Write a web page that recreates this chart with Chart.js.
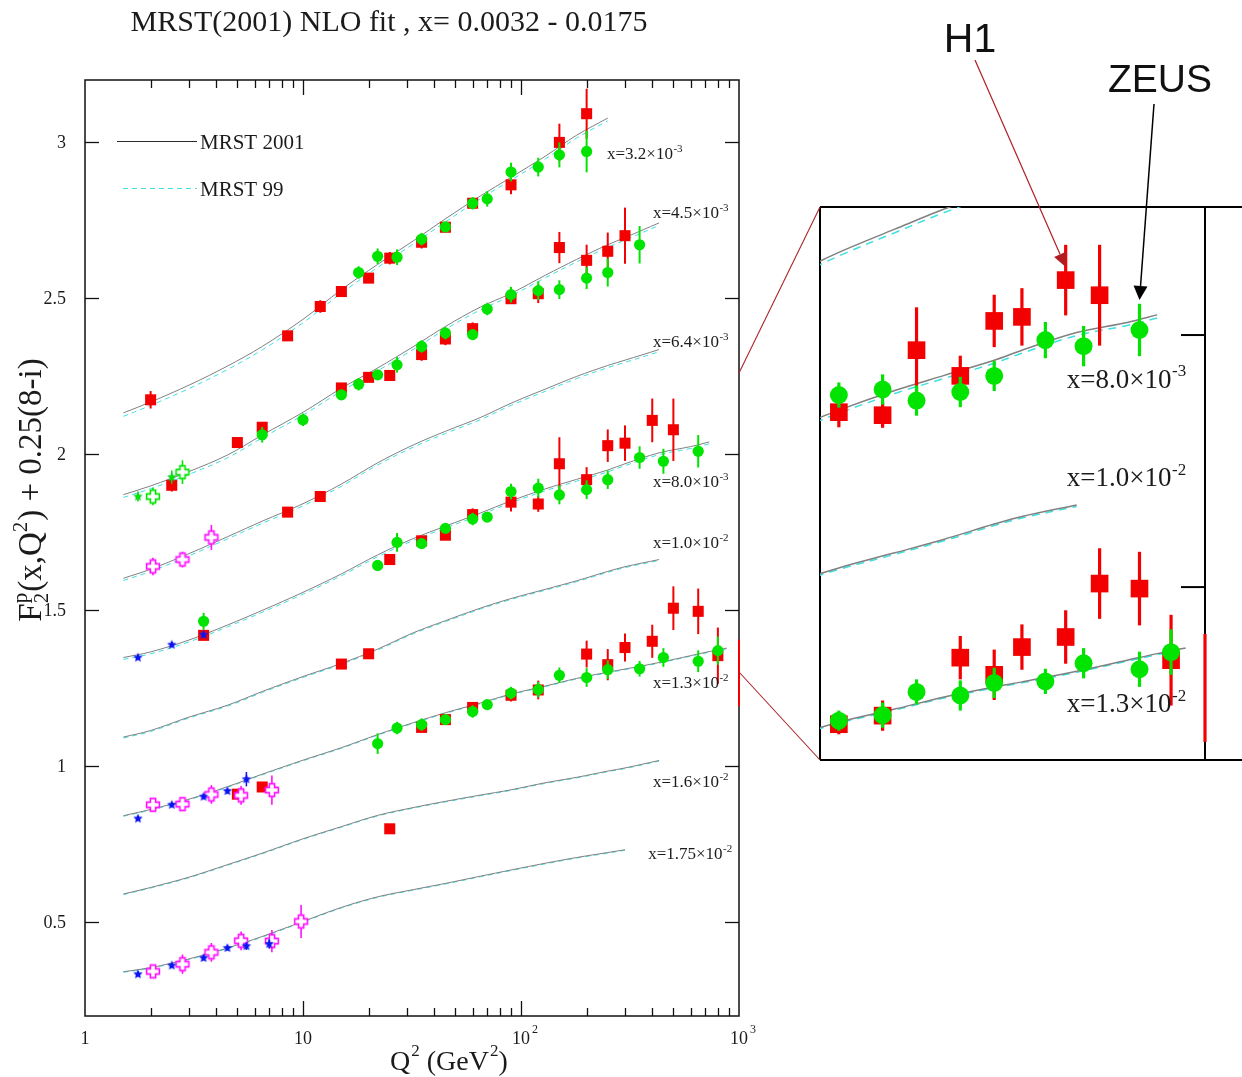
<!DOCTYPE html>
<html>
<head>
<meta charset="utf-8">
<script src="https://cdn.jsdelivr.net/npm/chart.js@4.4.1/dist/chart.umd.min.js"></script>
<style>
  html, body { margin: 0; padding: 0; background: #fff; }
  #wrap { position: relative; width: 1242px; height: 1077px; overflow: hidden; background: #fff; }
  #wrap canvas { position: absolute; left: 0; top: 0; }
</style>
</head>
<body>
<div id="wrap">
  <canvas id="main" width="1242" height="1077"></canvas>
  <canvas id="zoom" width="1242" height="1077"></canvas>
</div>
<script>
// ---------------------------------------------------------------------------
// F2 proton structure function, offset by 0.25(8-i) per x bin
// ---------------------------------------------------------------------------

// x bins (top to bottom)
const binMantissa = ['3.2', '4.5', '6.4', '8.0', '1.0', '1.3', '1.6', '1.75'];
const binExponent = ['-3', '-3', '-3', '-3', '-2', '-2', '-2', '-2'];

// Q2 grid of the fit curves
const curveQ2 = [1.5, 2, 3, 4.5, 6.5, 10, 15, 22, 32, 45, 65, 90, 130, 180, 250, 300, 430, 600, 730, 880];

// MRST 2001 NLO curves, one row per x bin
const mrst2001 = [
  [2.133, 2.168, 2.222, 2.283, 2.346, 2.433, 2.528, 2.609, 2.684, 2.755, 2.828, 2.888, 2.957, 3.023, 3.078],
  [1.871, 1.899, 1.945, 1.998, 2.062, 2.135, 2.212, 2.277, 2.345, 2.410, 2.472, 2.516, 2.575, 2.625, 2.672, 2.695, 2.742],
  [1.603, 1.632, 1.682, 1.736, 1.786, 1.842, 1.905, 1.973, 2.030, 2.074, 2.118, 2.164, 2.210, 2.250, 2.285, 2.302, 2.336],
  [1.349, 1.367, 1.405, 1.453, 1.500, 1.558, 1.617, 1.678, 1.730, 1.770, 1.812, 1.851, 1.890, 1.920, 1.950, 1.970, 2.005, 2.025, 2.040],
  [1.094, 1.115, 1.158, 1.196, 1.240, 1.288, 1.330, 1.376, 1.428, 1.467, 1.507, 1.538, 1.568, 1.595, 1.625, 1.640, 1.663],
  [0.842, 0.862, 0.895, 0.935, 0.975, 1.020, 1.060, 1.102, 1.140, 1.172, 1.203, 1.232, 1.258, 1.282, 1.302, 1.312, 1.333, 1.355, 1.368, 1.379],
  [0.591, 0.612, 0.645, 0.685, 0.722, 0.768, 0.807, 0.843, 0.868, 0.888, 0.908, 0.925, 0.948, 0.965, 0.985, 0.995, 1.019],
  [0.342, 0.355, 0.383, 0.418, 0.455, 0.503, 0.548, 0.582, 0.605, 0.625, 0.648, 0.668, 0.690, 0.708, 0.724, 0.733]
];

// MRST 99 curves
const mrst99 = [
  [2.122, 2.157, 2.211, 2.272, 2.335, 2.422, 2.517, 2.599, 2.674, 2.745, 2.819, 2.879, 2.948, 3.014, 3.069],
  [1.862, 1.890, 1.936, 1.989, 2.053, 2.126, 2.203, 2.268, 2.336, 2.401, 2.463, 2.508, 2.567, 2.617, 2.664, 2.687, 2.734],
  [1.596, 1.625, 1.675, 1.729, 1.779, 1.835, 1.898, 1.966, 2.023, 2.067, 2.111, 2.157, 2.203, 2.243, 2.278, 2.295, 2.329],
  [1.343, 1.361, 1.399, 1.447, 1.494, 1.552, 1.611, 1.672, 1.724, 1.764, 1.806, 1.845, 1.884, 1.914, 1.944, 1.964, 1.999, 2.019, 2.034],
  [1.091, 1.112, 1.155, 1.193, 1.237, 1.285, 1.327, 1.373, 1.425, 1.464, 1.504, 1.535, 1.565, 1.592, 1.622, 1.637, 1.660],
  [0.840, 0.860, 0.893, 0.933, 0.973, 1.018, 1.058, 1.100, 1.138, 1.170, 1.201, 1.230, 1.256, 1.280, 1.300, 1.310, 1.331, 1.353, 1.366, 1.377],
  [0.589, 0.610, 0.643, 0.683, 0.720, 0.766, 0.805, 0.841, 0.866, 0.886, 0.906, 0.923, 0.946, 0.963, 0.983, 0.993, 1.017],
  [0.340, 0.353, 0.381, 0.416, 0.453, 0.501, 0.546, 0.580, 0.603, 0.623, 0.646, 0.666, 0.688, 0.706, 0.722, 0.731]
];

// H1 (red squares): Q2, F2 + offset, error
const h1Q2 = [
  2.0, 8.5, 12, 15, 20, 25, 35, 45, 60, 90, 150, 200,
  2.5, 5.0, 6.5, 15, 20, 25, 35, 45, 60, 90, 120, 150, 200, 250, 300,
  8.5, 12,
  3.5, 25, 35, 45, 60, 90, 120, 150, 200, 250, 300, 400, 500,
  15, 20,
  5.0, 6.5, 35, 45, 60, 90, 120, 200, 250, 300, 400, 500, 650, 800, 1000,
  25
];
const h1F2 = [
  2.175, 2.380, 2.474, 2.522, 2.565, 2.629, 2.680, 2.728, 2.805, 2.864, 3.000, 3.092,
  1.901, 2.038, 2.087, 2.213, 2.247, 2.253, 2.320, 2.370, 2.403, 2.499, 2.515, 2.663, 2.622, 2.651, 2.701,
  1.815, 1.865,
  1.420, 1.663, 1.723, 1.741, 1.807, 1.847, 1.841, 1.970, 1.919, 2.028, 2.036, 2.109, 2.079,
  1.328, 1.361,
  0.911, 0.934, 1.125, 1.150, 1.189, 1.228, 1.245, 1.360, 1.326, 1.381, 1.401, 1.507, 1.497, 1.355, 1.300,
  0.800
];
const h1Err = [
  0.028, 0.015, 0.020, 0.015, 0.015, 0.020, 0.020, 0.015, 0.015, 0.030, 0.060, 0.080,
  0.020, 0.012, 0.015, 0.015, 0.015, 0.015, 0.020, 0.020, 0.020, 0.015, 0.030, 0.050, 0.050, 0.060, 0.090,
  0.012, 0.012,
  0.015, 0.015, 0.015, 0.015, 0.020, 0.030, 0.025, 0.085, 0.040, 0.052, 0.057, 0.070, 0.100,
  0.012, 0.012,
  0.012, 0.012, 0.015, 0.015, 0.015, 0.020, 0.030, 0.043, 0.050, 0.045, 0.053, 0.070, 0.073, 0.090, 0.107,
  0.012
];

// ZEUS (green circles)
const zeusQ2 = [
  18, 22, 27, 35, 45, 60, 70, 90, 120, 150, 200,
  6.5, 10, 15, 18, 22, 27, 35, 45, 60, 70, 90, 120, 150, 200, 250, 350,
  3.5, 22, 27, 35, 45, 60, 70, 90, 120, 150, 200, 250, 350, 450, 650,
  22, 27, 35, 45, 60, 70, 90, 120, 150, 200, 250, 350, 450, 650, 800
];
const zeusF2 = [
  2.583, 2.635, 2.632, 2.690, 2.729, 2.805, 2.819, 2.905, 2.921, 2.960, 2.971,
  2.063, 2.111, 2.191, 2.225, 2.255, 2.287, 2.346, 2.389, 2.384, 2.466, 2.512, 2.525, 2.528, 2.565, 2.583, 2.672,
  1.465, 1.644, 1.718, 1.714, 1.763, 1.793, 1.799, 1.881, 1.892, 1.870, 1.887, 1.919, 1.990, 1.978, 2.010,
  1.073, 1.123, 1.134, 1.150, 1.176, 1.198, 1.235, 1.246, 1.292, 1.285, 1.310, 1.313, 1.349, 1.337, 1.371
];
const zeusErr = [
  0.020, 0.025, 0.025, 0.020, 0.015, 0.020, 0.025, 0.030, 0.030, 0.040, 0.067,
  0.025, 0.020, 0.015, 0.020, 0.015, 0.025, 0.020, 0.020, 0.015, 0.020, 0.025, 0.030, 0.030, 0.035, 0.045, 0.060,
  0.027, 0.015, 0.030, 0.015, 0.015, 0.020, 0.015, 0.025, 0.030, 0.030, 0.030, 0.030, 0.036, 0.040, 0.052,
  0.033, 0.020, 0.020, 0.015, 0.020, 0.015, 0.020, 0.025, 0.025, 0.030, 0.030, 0.025, 0.030, 0.035, 0.045
];

// fixed-target data, blue stars
const starQ2 = [1.75, 2.5, 3.5, 1.75, 2.5, 3.5, 4.5, 5.5, 1.75, 2.5, 3.5, 4.5, 5.5, 7.0];
const starF2 = [1.349, 1.390, 1.422, 0.833, 0.877, 0.903, 0.921, 0.959, 0.334, 0.362, 0.386, 0.418, 0.424, 0.431];
const starErr = [0.008, 0.008, 0.010, 0.008, 0.008, 0.008, 0.008, 0.023, 0.008, 0.008, 0.008, 0.008, 0.012, 0.015];

// fixed-target data, magenta open crosses
const crossQ2 = [2.05, 2.8, 3.8, 2.05, 2.8, 3.8, 5.2, 7.2, 2.05, 2.8, 3.8, 5.2, 7.2, 9.8];
const crossF2 = [1.641, 1.663, 1.734, 0.877, 0.879, 0.910, 0.907, 0.924, 0.343, 0.366, 0.404, 0.441, 0.440, 0.503];
const crossErr = [0.028, 0.025, 0.040, 0.020, 0.020, 0.030, 0.030, 0.047, 0.020, 0.031, 0.030, 0.030, 0.036, 0.053];

// same fixed-target sets in the x = 4.5e-3 bin (green)
const gStarQ2 = [1.75, 2.5];
const gStarF2 = [1.865, 1.927];
const gStarErr = [0.016, 0.021];
const gCrossQ2 = [2.05, 2.8];
const gCrossF2 = [1.865, 1.943];
const gCrossErr = [0.028, 0.038];

// axis ticks
const yTickValues = [0.5, 1, 1.5, 2, 2.5, 3];
const yTickLabels = ['0.5', '1', '1.5', '2', '2.5', '3'];
const xTickValues = [1, 10, 100, 1000];
const xTickBase = ['1', '10', '10', '10'];
const xTickExp = ['', '', '2', '3'];

// where each bin label sits, in (Q2, F2) coordinates
const labelAnchors = [
  [248, 2.965], [403, 2.776], [403, 2.362], [403, 1.913],
  [403, 1.718], [403, 1.269], [403, 0.952], [383, 0.721]
];

// ---------------------------------------------------------------------------
const SERIF = '"Liberation Serif", "Times New Roman", Times, serif';
const SANS = '"Liberation Sans", Arial, sans-serif';
const TXT = '#1b1b1b';
const RED = '#f30000', GREEN = '#00e400', BLUE = '#0a14f0', MAGENTA = '#ff10ff';
const CURVE = '#808080', CYAN = '#3fe0e0';

function pts(q, f) { return q.map((v, i) => ({ x: v, y: f[i] })); }
function curve(vals) { return vals.map((v, i) => ({ x: curveQ2[i], y: v })); }

function makeStar(color, R) {
  const c = document.createElement('canvas');
  const s = Math.ceil(R * 2 + 4);
  c.width = c.height = s;
  const g = c.getContext('2d');
  g.translate(s / 2, s / 2);
  g.shadowColor = 'rgba(80,80,255,0.45)';
  g.shadowBlur = R * 0.4;
  g.beginPath();
  for (let i = 0; i < 10; i++) {
    const r = i % 2 ? R * 0.45 : R;
    const a = -Math.PI / 2 + i * Math.PI / 5;
    g.lineTo(r * Math.cos(a), r * Math.sin(a));
  }
  g.closePath();
  g.fillStyle = color;
  g.fill();
  return c;
}

function makeCross(color, H, W, lw) {
  const c = document.createElement('canvas');
  const s = Math.ceil(H * 2 + lw * 2 + 2);
  c.width = c.height = s;
  const g = c.getContext('2d');
  g.translate(s / 2, s / 2);
  g.beginPath();
  g.moveTo(-W, -H); g.lineTo(W, -H); g.lineTo(W, -W); g.lineTo(H, -W);
  g.lineTo(H, W); g.lineTo(W, W); g.lineTo(W, H); g.lineTo(-W, H);
  g.lineTo(-W, W); g.lineTo(-H, W); g.lineTo(-H, -W); g.lineTo(-W, -W);
  g.closePath();
  g.fillStyle = '#fff';
  g.fill();
  g.strokeStyle = color;
  g.lineWidth = lw;
  g.stroke();
  return c;
}

function pointSet(q, f, err, opts) {
  return Object.assign({
    data: pts(q, f),
    errors: err,
    showLine: false,
    pointBorderWidth: 0
  }, opts);
}

function buildDatasets(k) {
  const list = [];
  for (let i = 0; i < mrst2001.length; i++) {
    list.push({
      data: curve(mrst2001[i]), showLine: true, borderColor: CURVE,
      borderWidth: k > 1 ? 1.5 : 1, pointRadius: 0, tension: 0.35, order: 10
    });
    list.push({
      data: curve(mrst99[i]), showLine: true, borderColor: CYAN,
      borderWidth: k > 1 ? 1.5 : 1, borderDash: k > 1 ? [8, 6] : [5, 4], pointRadius: 0,
      tension: 0.35, order: 11
    });
  }
  const starImg = makeStar(BLUE, 4.8 * k);
  const crossImg = makeCross(MAGENTA, 6.4 * k, 2.6 * k, 1.6 * k);
  const gStarImg = makeStar(GREEN, 4.8 * k);
  const gCrossImg = makeCross(GREEN, 6.4 * k, 2.6 * k, 1.6 * k);
  list.push(pointSet(h1Q2, h1F2, h1Err, {
    label: 'H1', pointStyle: 'rect', pointBackgroundColor: RED,
    pointRadius: c => (c.raw && c.raw.x >= 1000) ? 0 : 7.8 * k,
    errColor: RED, errWidth: 2 * k, order: 5
  }));
  list.push(pointSet(zeusQ2, zeusF2, zeusErr, {
    label: 'ZEUS', pointStyle: 'circle', pointBackgroundColor: GREEN,
    pointRadius: 5.6 * k, errColor: GREEN, errWidth: 2 * k, order: 4
  }));
  list.push(pointSet(gCrossQ2, gCrossF2, gCrossErr, {
    label: 'crosses (4.5e-3)', pointStyle: gCrossImg, pointRadius: 5 * k,
    errColor: GREEN, errWidth: 1.6 * k, order: 3
  }));
  list.push(pointSet(crossQ2, crossF2, crossErr, {
    label: 'crosses', pointStyle: crossImg, pointRadius: 5 * k,
    errColor: MAGENTA, errWidth: 1.6 * k, order: 3
  }));
  list.push(pointSet(gStarQ2, gStarF2, gStarErr, {
    label: 'stars (4.5e-3)', pointStyle: gStarImg, pointRadius: 4 * k,
    errColor: GREEN, errWidth: 1.5 * k, order: 2
  }));
  list.push(pointSet(starQ2, starF2, starErr, {
    label: 'stars', pointStyle: starImg, pointRadius: 4 * k,
    errColor: BLUE, errWidth: 1.5 * k, order: 2
  }));
  return list;
}

// vertical error bars, drawn just before each dataset's markers
const errorBars = {
  id: 'errorBars',
  beforeDatasetDraw(chart, args) {
    const ds = chart.data.datasets[args.index];
    if (!ds.errors) return;
    const { ctx, chartArea: a, scales: { x, y } } = chart;
    ctx.save();
    ctx.beginPath();
    ctx.rect(a.left - 2, a.top - 1, a.right - a.left + 4, a.bottom - a.top + 2);
    ctx.clip();
    ctx.strokeStyle = ds.errColor;
    ctx.lineWidth = ds.errWidth;
    ds.data.forEach((p, i) => {
      const e = ds.errors[i];
      const px = x.getPixelForValue(p.x);
      ctx.beginPath();
      ctx.moveTo(px, y.getPixelForValue(p.y - e));
      ctx.lineTo(px, y.getPixelForValue(p.y + e));
      ctx.stroke();
    });
    ctx.restore();
  }
};

function seg(ctx, x1, y1, x2, y2) {
  ctx.beginPath(); ctx.moveTo(x1, y1); ctx.lineTo(x2, y2); ctx.stroke();
}

function drawBinLabel(ctx, x, yc, mant, exp, size) {
  const base = 'x=' + mant + '\u00d710';
  ctx.fillStyle = TXT;
  ctx.textAlign = 'left';
  ctx.textBaseline = 'alphabetic';
  ctx.font = size + 'px ' + SERIF;
  const bl = yc + size * 0.33;
  ctx.fillText(base, x, bl);
  const w = ctx.measureText(base).width;
  ctx.font = Math.round(size * 0.64) + 'px ' + SERIF;
  ctx.fillText(exp, x + w + 0.5, bl - size * 0.42);
}

function drawBinLabels(chart, size) {
  const { ctx, chartArea: a, scales: { x, y } } = chart;
  labelAnchors.forEach((p, i) => {
    const px = x.getPixelForValue(p[0]);
    const py = y.getPixelForValue(p[1]);
    if (px < a.left || px > a.right || py < a.top || py > a.bottom) return;
    drawBinLabel(ctx, px, py, binMantissa[i], binExponent[i], size);
  });
}

// frame, inward ticks, texts of the main plot
const mainDecor = {
  id: 'mainDecor',
  beforeDatasetsDraw(chart) {
    const { ctx, chartArea: a, scales: { x, y } } = chart;
    ctx.save();
    ctx.strokeStyle = '#111';
    ctx.lineWidth = 1.5;
    ctx.strokeRect(a.left, a.top, a.right - a.left, a.bottom - a.top);
    ctx.lineWidth = 1.3;
    yTickValues.forEach(v => {
      const py = Math.round(y.getPixelForValue(v)) + 0.5;
      seg(ctx, a.left, py, a.left + 14, py);
      seg(ctx, a.right - 14, py, a.right, py);
    });
    for (let d = 1; d < 1000; d *= 10) {
      for (let m = 1; m < 10; m++) {
        const v = d * m;
        if (v === 1) continue;
        const px = Math.round(x.getPixelForValue(v)) + 0.5;
        const len = m === 1 ? 15 : 8;
        seg(ctx, px, a.bottom, px, a.bottom - len);
        seg(ctx, px, a.top, px, a.top + len);
      }
    }
    ctx.restore();
  },
  afterDraw(chart) {
    const { ctx, scales: { x, y } } = chart;
    ctx.save();
    ctx.fillStyle = TXT;

    // title
    ctx.font = '30px ' + SERIF;
    ctx.textAlign = 'center';
    ctx.textBaseline = 'alphabetic';
    ctx.fillText('MRST(2001) NLO fit , x= 0.0032 - 0.0175', 389, 31);

    // legend
    ctx.strokeStyle = '#2a2a2a';
    ctx.lineWidth = 1.2;
    seg(ctx, 117, 141.5, 197, 141.5);
    ctx.strokeStyle = CYAN;
    ctx.setLineDash([5, 4]);
    seg(ctx, 123, 188.5, 197, 188.5);
    ctx.setLineDash([]);
    ctx.font = '21px ' + SERIF;
    ctx.textAlign = 'left';
    ctx.fillText('MRST 2001', 200, 148.5);
    ctx.fillText('MRST 99', 200, 195.5);

    // y tick labels
    ctx.font = '18px ' + SERIF;
    ctx.textAlign = 'right';
    yTickValues.forEach((v, i) => {
      ctx.fillText(yTickLabels[i], 66, y.getPixelForValue(v) + 6);
    });

    // x tick labels
    xTickValues.forEach((v, i) => {
      const px = x.getPixelForValue(v);
      ctx.font = '18px ' + SERIF;
      ctx.textAlign = 'center';
      ctx.fillText(xTickBase[i], px, 1044);
      if (xTickExp[i]) {
        const w = ctx.measureText(xTickBase[i]).width;
        ctx.font = '12px ' + SERIF;
        ctx.textAlign = 'left';
        ctx.fillText(xTickExp[i], px + w / 2 + 2, 1033);
      }
    });

    // x axis title: Q^2 (GeV^2)
    {
      let cx = 390;
      const bl = 1070;
      ctx.textAlign = 'left';
      ctx.font = '28px ' + SERIF;
      ctx.fillText('Q', cx, bl); cx += ctx.measureText('Q').width + 1;
      ctx.font = '17px ' + SERIF;
      ctx.fillText('2', cx, bl - 14); cx += ctx.measureText('2').width;
      ctx.font = '28px ' + SERIF;
      ctx.fillText(' (GeV', cx, bl); cx += ctx.measureText(' (GeV').width + 1;
      ctx.font = '17px ' + SERIF;
      ctx.fillText('2', cx, bl - 14); cx += ctx.measureText('2').width;
      ctx.font = '28px ' + SERIF;
      ctx.fillText(')', cx, bl);
    }

    // y axis title: F2^p(x,Q^2) + 0.25(8-i)
    {
      const s = 33, ss = 21;
      const F = s + 'px ' + SERIF, f = ss + 'px ' + SERIF;
      ctx.save();
      ctx.translate(30, 490);
      ctx.rotate(-Math.PI / 2);
      ctx.textAlign = 'left';
      ctx.font = F;
      const wF = ctx.measureText('F').width;
      const wA = ctx.measureText('(x,Q').width;
      const wB = ctx.measureText(') + 0.25(8-i)').width;
      ctx.font = f;
      const w2 = ctx.measureText('2').width;
      const wp = ctx.measureText('p').width;
      const total = wF + Math.max(w2, wp) + 1 + wA + w2 + 1 + wB;
      let cx = -total / 2;
      const bl = s * 0.34;
      ctx.font = F; ctx.fillText('F', cx, bl); cx += wF;
      ctx.font = f;
      ctx.fillText('p', cx, bl - s * 0.42);
      ctx.fillText('2', cx, bl + s * 0.2);
      cx += Math.max(w2, wp) + 1;
      ctx.font = F; ctx.fillText('(x,Q', cx, bl); cx += wA;
      ctx.font = f; ctx.fillText('2', cx, bl - s * 0.42); cx += w2 + 1;
      ctx.font = F; ctx.fillText(') + 0.25(8-i)', cx, bl);
      ctx.restore();
    }

    drawBinLabels(chart, 17);
    ctx.restore();
  }
};

function arrow(ctx, x1, y1, x2, y2, color, lw, headLen, headHalf) {
  const ang = Math.atan2(y2 - y1, x2 - x1);
  const bx = x2 - headLen * Math.cos(ang), by = y2 - headLen * Math.sin(ang);
  ctx.strokeStyle = color;
  ctx.fillStyle = color;
  ctx.lineWidth = lw;
  seg(ctx, x1, y1, bx, by);
  ctx.beginPath();
  ctx.moveTo(x2, y2);
  ctx.lineTo(bx + headHalf * Math.sin(ang), by - headHalf * Math.cos(ang));
  ctx.lineTo(bx - headHalf * Math.sin(ang), by + headHalf * Math.cos(ang));
  ctx.closePath();
  ctx.fill();
}

// magnified panel: frame, right axis, connectors, annotations
const zoomDecor = {
  id: 'zoomDecor',
  beforeDraw(chart) {
    const { ctx, chartArea: a } = chart;
    ctx.save();
    ctx.fillStyle = '#fff';
    ctx.fillRect(a.left, a.top, chart.width - a.left, a.bottom - a.top);
    ctx.restore();
  },
  beforeDatasetsDraw(chart) {
    const { ctx, chartArea: a, scales: { y } } = chart;
    ctx.save();
    ctx.strokeStyle = '#000';
    ctx.lineWidth = 2;
    seg(ctx, a.left, a.top, chart.width, a.top);
    seg(ctx, a.left, a.bottom, chart.width, a.bottom);
    seg(ctx, a.left, a.top, a.left, a.bottom);
    seg(ctx, a.right, a.top, a.right, a.bottom);
    yTickValues.forEach(v => {
      const py = y.getPixelForValue(v);
      if (py < a.top || py > a.bottom) return;
      seg(ctx, a.right - 24, py, a.right, py);
    });
    ctx.restore();
  },
  afterDraw(chart) {
    const { ctx, chartArea: a, scales: { x, y } } = chart;
    ctx.save();
    drawBinLabels(chart, 27);

    // connectors from the main plot's right edge to the panel corners
    ctx.strokeStyle = '#a8262a';
    ctx.lineWidth = 1.1;
    seg(ctx, 739, 373, a.left, a.top);
    seg(ctx, 739, 672, a.left, a.bottom);

    // annotations
    ctx.fillStyle = '#111';
    ctx.textAlign = 'center';
    ctx.textBaseline = 'alphabetic';
    ctx.font = '41px ' + SANS;
    ctx.fillText('H1', 970, 52);
    ctx.font = '39px ' + SANS;
    ctx.fillText('ZEUS', 1160, 92);

    const h1x = x.getPixelForValue(400), h1y = y.getPixelForValue(2.109) - 13;
    arrow(ctx, 975, 60, h1x, h1y, '#b01e22', 1.2, 14, 6.5);
    const zx = x.getPixelForValue(650), zy = y.getPixelForValue(2.010) - 30;
    arrow(ctx, 1154, 104, zx, zy, '#000', 1.5, 14, 7);
    ctx.restore();
  }
};

function baseOptions(pad, xr, yr) {
  return {
    responsive: false,
    animation: false,
    events: [],
    devicePixelRatio: 1,
    layout: { padding: pad },
    scales: {
      x: { type: 'logarithmic', min: xr[0], max: xr[1], display: false, bounds: 'data' },
      y: { type: 'linear', min: yr[0], max: yr[1], display: false, bounds: 'data' }
    },
    plugins: { legend: { display: false }, tooltip: { enabled: false }, title: { display: false } }
  };
}

new Chart(document.getElementById('main'), {
  type: 'scatter',
  data: { datasets: buildDatasets(1) },
  options: baseOptions({ left: 85, top: 80, right: 1242 - 739, bottom: 1077 - 1016 }, [1, 1000], [0.2, 3.2]),
  plugins: [mainDecor, errorBars]
});

new Chart(document.getElementById('zoom'), {
  type: 'scatter',
  data: { datasets: buildDatasets(1.6) },
  options: baseOptions({ left: 820, top: 207, right: 1242 - 1205, bottom: 1077 - 760 }, [79.5, 1000], [1.157, 2.254]),
  plugins: [zoomDecor, errorBars]
});
</script>
</body>
</html>
